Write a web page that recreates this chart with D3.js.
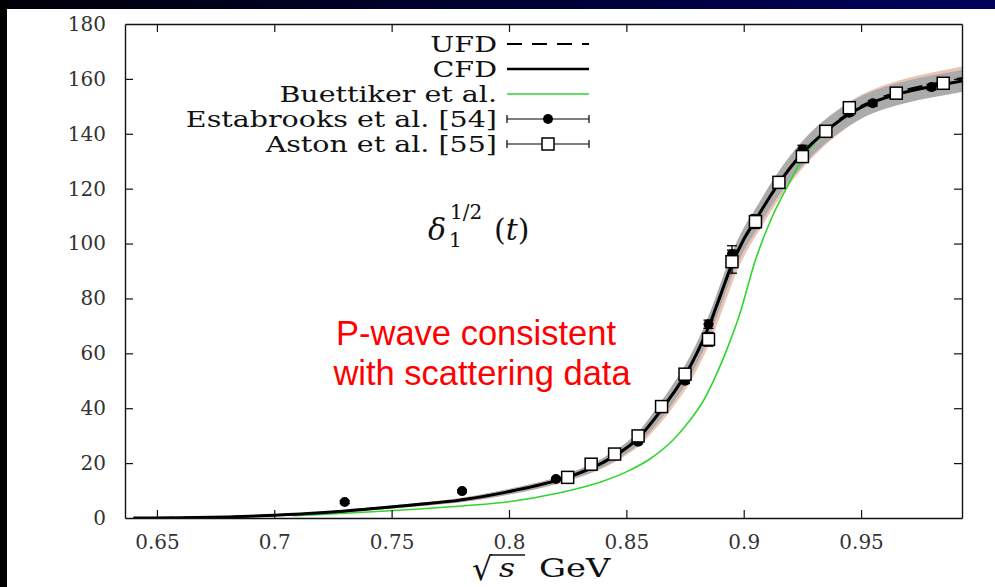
<!DOCTYPE html>
<html>
<head>
<meta charset="utf-8">
<script src="https://cdn.jsdelivr.net/npm/d3@7"></script>
<style>
  body { margin: 0; background: #fff; }
  svg { display: block; }
</style>
</head>
<body>
<div id="chart"></div>
<script>
// CFD / UFD curves (sqrt(s) in GeV, phase in degrees)
const curveX = [0.64, 0.66, 0.68, 0.70, 0.72, 0.74, 0.76, 0.78, 0.80, 0.82, 0.83, 0.84, 0.85, 0.855, 0.86, 0.865, 0.87, 0.875, 0.88, 0.885, 0.89, 0.895, 0.90, 0.905, 0.91, 0.915, 0.92, 0.925, 0.93, 0.935, 0.94, 0.945, 0.95, 0.955, 0.96, 0.965, 0.97, 0.98, 0.993];
const cfdY   = [0, 0.1, 0.4, 1.0, 1.9, 3.3, 4.8, 6.6, 9.6, 13.6, 16.4, 20.2, 25.5, 29, 34, 39.5, 45.5, 52, 60, 69.5, 81, 92.5, 101.5, 108.5, 115.5, 122, 127.8, 132.8, 137.2, 141, 144.3, 147.2, 149.6, 151.5, 153, 154.3, 155.4, 157.2, 159.2];
const ufdY   = [0, 0.1, 0.4, 1.0, 1.9, 3.3, 4.8, 6.7, 9.7, 13.7, 16.5, 20.3, 25.6, 29.1, 34, 39.4, 45.3, 51.8, 59.8, 69.2, 80.6, 92.2, 101.2, 108.3, 115.4, 122, 127.9, 133, 137.5, 141.4, 144.7, 147.7, 150.2, 152.1, 153.7, 155, 156.2, 158.1, 160.3];
const cfdErr = [0, 0.1, 0.2, 0.3, 0.4, 0.5, 0.6, 0.8, 1.0, 1.2, 1.4, 1.7, 2.0, 2.3, 2.7, 3.1, 3.4, 3.7, 3.9, 4.1, 4.2, 4.2, 4.2, 4.2, 4.3, 4.4, 4.5, 4.5, 4.5, 4.4, 4.3, 4.2, 4.1, 4.0, 4.0, 4.0, 4.0, 4.0, 4.0];

// Buettiker et al.
const buettX = [0.708, 0.72, 0.74, 0.76, 0.78, 0.80, 0.82, 0.84, 0.85, 0.86, 0.87, 0.877, 0.883, 0.889, 0.894, 0.898, 0.905, 0.912, 0.92, 0.925, 0.93, 0.94, 0.95, 0.957];
const buettY = [0.8, 1.3, 2.2, 3.2, 4.4, 5.9, 8.9, 13.4, 16.8, 21.5, 28.5, 35.5, 43, 53.5, 64, 73.5, 94, 109.5, 123, 131, 136.5, 144, 149.5, 152];

// Estabrooks et al. [54]
const estX   = [0.73, 0.78, 0.82, 0.855, 0.875, 0.885, 0.895, 0.925, 0.945, 0.955, 0.98];
const estY   = [5.8, 9.8, 14.2, 27.8, 50, 70.6, 96.2, 134.3, 147.7, 151.1, 157];
const estErr = [0.5, 0.5, 0.5, 0.8, 1, 1.5, 3, 1.5, 1, 1, 1];

// Aston et al. [55]
const astonX   = [0.825, 0.835, 0.845, 0.855, 0.865, 0.875, 0.885, 0.895, 0.905, 0.915, 0.925, 0.935, 0.945, 0.965, 0.985];
const astonY   = [14.8, 19.6, 23.3, 29.9, 40.6, 52.4, 65.1, 93.4, 108, 122.3, 131.7, 140.9, 149.5, 154.8, 158.4];
const astonErr = [0.5, 0.5, 0.5, 0.8, 1, 1.2, 2.5, 4.2, 2.5, 1, 1, 1, 1, 1, 1];

const xTicks = [0.65, 0.7, 0.75, 0.8, 0.85, 0.9, 0.95];
const xTickLabels = ["0.65", "0.7", "0.75", "0.8", "0.85", "0.9", "0.95"];
const yTicks = [0, 20, 40, 60, 80, 100, 120, 140, 160, 180];

const W = 995, H = 587;
const svg = d3.select("#chart").append("svg").attr("width", W).attr("height", H);

// slide background
const defs = svg.append("defs");
const grad = defs.append("linearGradient").attr("id", "topbar");
grad.append("stop").attr("offset", "0%").attr("stop-color", "#000008");
grad.append("stop").attr("offset", "100%").attr("stop-color", "#00005c");
svg.append("rect").attr("width", W).attr("height", H).attr("fill", "#fff");
svg.append("rect").attr("width", W).attr("height", 9).attr("fill", "url(#topbar)");
svg.append("rect").attr("width", 7).attr("height", H).attr("fill", "#000");

const x = d3.scaleLinear().domain([0.6364, 0.993]).range([125, 962]);
const y = d3.scaleLinear().domain([0, 180]).range([518, 24]);

const clip = defs.append("clipPath").attr("id", "plotclip");
clip.append("rect").attr("x", 125).attr("y", 24).attr("width", 837).attr("height", 494);

const plot = svg.append("g").attr("clip-path", "url(#plotclip)");

// error bands (UFD band slightly behind, pinkish)
const bandPts = curveX.map((v, i) => ({x: v, c: cfdY[i], u: ufdY[i], e: cfdErr[i]}));
plot.append("path")
  .datum(bandPts)
  .attr("fill", "#ecc4b6")
  .attr("d", d3.area().curve(d3.curveMonotoneX)
    .x(d => x(d.x + 0.0012)).y0(d => y(d.u - d.e)).y1(d => y(d.u + d.e * 1.1)));
plot.append("path")
  .datum(bandPts)
  .attr("fill", "#ababab")
  .attr("d", d3.area().curve(d3.curveMonotoneX)
    .x(d => x(d.x)).y0(d => y(d.c - d.e)).y1(d => y(d.c + d.e)));

const line = d3.line().curve(d3.curveMonotoneX).x(d => x(d[0])).y(d => y(d[1]));

// Buettiker
plot.append("path")
  .datum(buettX.map((v, i) => [v, buettY[i]]))
  .attr("fill", "none").attr("stroke", "#2fd62f").attr("stroke-width", 1.6)
  .attr("d", line);

// CFD
plot.append("path")
  .datum(curveX.map((v, i) => [v, cfdY[i]]))
  .attr("fill", "none").attr("stroke", "#000").attr("stroke-width", 3)
  .attr("d", line);
// UFD
plot.append("path")
  .datum(curveX.map((v, i) => [v, ufdY[i]]))
  .attr("fill", "none").attr("stroke", "#000").attr("stroke-width", 2)
  .attr("stroke-dasharray", "15,10")
  .attr("d", line);

// error bars
function errBars(xs, ys, es) {
  const g = plot.append("g").attr("stroke", "#000").attr("stroke-width", 1.3);
  xs.forEach((v, i) => {
    const cx = x(v), y0 = y(ys[i] - es[i]), y1 = y(ys[i] + es[i]);
    g.append("line").attr("x1", cx).attr("x2", cx).attr("y1", y0).attr("y2", y1);
    g.append("line").attr("x1", cx - 5).attr("x2", cx + 5).attr("y1", y0).attr("y2", y0);
    g.append("line").attr("x1", cx - 5).attr("x2", cx + 5).attr("y1", y1).attr("y2", y1);
  });
}
errBars(estX, estY, estErr);
errBars(astonX, astonY, astonErr);

plot.append("g").selectAll("circle")
  .data(estX.map((v, i) => [v, estY[i]]))
  .join("circle")
  .attr("cx", d => x(d[0])).attr("cy", d => y(d[1]))
  .attr("r", 5).attr("fill", "#000");

plot.append("g").selectAll("rect")
  .data(astonX.map((v, i) => [v, astonY[i]]))
  .join("rect")
  .attr("x", d => x(d[0]) - 6).attr("y", d => y(d[1]) - 6)
  .attr("width", 12).attr("height", 12)
  .attr("fill", "#fff").attr("stroke", "#000").attr("stroke-width", 1.5);

// axes
const serif = "'DejaVu Serif', 'Liberation Serif', serif";
const axB = svg.append("g").attr("transform", "translate(0,518)")
  .call(d3.axisBottom(x).tickValues(xTicks).tickFormat((d, i) => xTickLabels[i]).tickSizeInner(-8).tickSizeOuter(0).tickPadding(17));
const axL = svg.append("g").attr("transform", "translate(125,0)")
  .call(d3.axisLeft(y).tickValues(yTicks).tickSizeInner(-8).tickSizeOuter(0).tickPadding(19));
const axT = svg.append("g").attr("transform", "translate(0,24)")
  .call(d3.axisTop(x).tickValues(xTicks).tickFormat("").tickSizeInner(-8).tickSizeOuter(0));
const axR = svg.append("g").attr("transform", "translate(962,0)")
  .call(d3.axisRight(y).tickValues(yTicks).tickFormat("").tickSizeInner(-8).tickSizeOuter(0));
[axB, axL, axT, axR].forEach(a => {
  a.attr("font-family", serif);
  a.select(".domain").attr("stroke", "#111").attr("stroke-width", 1.4);
  a.selectAll(".tick line").attr("stroke", "#111").attr("stroke-width", 1.2);
  a.selectAll("text").attr("font-family", serif).attr("font-size", 20).attr("fill", "#333");
});
axL.selectAll(".tick").filter(d => d === 180 || d === 0).select("line").remove();
axR.selectAll(".tick").filter(d => d === 180 || d === 0).select("line").remove();

// legend
const legRows = [
  {label: "UFD", y: 44, kind: "dash"},
  {label: "CFD", y: 69, kind: "solid"},
  {label: "Buettiker et al.", y: 94, kind: "green"},
  {label: "Estabrooks et al. [54]", y: 119, kind: "circle"},
  {label: "Aston et al. [55]", y: 144, kind: "square"}
];
const leg = svg.append("g");
legRows.forEach(r => {
  leg.append("text").attr("transform", `translate(497,${r.y}) scale(1.24,1)`)
    .attr("dy", "0.36em")
    .attr("text-anchor", "end").attr("font-family", serif).attr("font-size", 23)
    .attr("fill", "#111").text(r.label);
  const ln = leg.append("line").attr("x1", 507).attr("x2", 589).attr("y1", r.y).attr("y2", r.y)
    .attr("stroke", "#000");
  if (r.kind === "dash") ln.attr("stroke-width", 2).attr("stroke-dasharray", "15,10");
  if (r.kind === "solid") ln.attr("stroke-width", 2.5);
  if (r.kind === "green") ln.attr("stroke", "#2fd62f").attr("stroke-width", 1.6);
  if (r.kind === "circle" || r.kind === "square") {
    ln.attr("stroke-width", 1.2);
    [507, 589].forEach(cx => leg.append("line").attr("x1", cx).attr("x2", cx)
      .attr("y1", r.y - 4).attr("y2", r.y + 4).attr("stroke", "#000").attr("stroke-width", 1.2));
    if (r.kind === "circle") leg.append("circle").attr("cx", 548).attr("cy", r.y).attr("r", 5).attr("fill", "#000");
    else leg.append("rect").attr("x", 542).attr("y", r.y - 6).attr("width", 12).attr("height", 12)
      .attr("fill", "#fff").attr("stroke", "#000").attr("stroke-width", 1.5);
  }
});

// delta label
const dg = svg.append("g").attr("font-family", serif).attr("fill", "#111");
dg.append("text").attr("x", 428).attr("y", 240).attr("font-size", 30).attr("font-style", "italic").text("δ");
dg.append("text").attr("x", 450).attr("y", 219).attr("font-size", 20).text("1/2");
dg.append("text").attr("x", 449).attr("y", 247).attr("font-size", 20).text("1");
dg.append("text").attr("x", 494).attr("y", 240).attr("font-size", 30)
  .call(t => { t.append("tspan").text("("); t.append("tspan").attr("font-style", "italic").text("t"); t.append("tspan").text(")"); });

// x axis title
const xl = svg.append("g").attr("font-family", serif).attr("fill", "#111");
xl.append("text").attr("x", 472).attr("y", 580).attr("font-size", 32).text("√");
xl.append("line").attr("x1", 491).attr("x2", 525).attr("y1", 555).attr("y2", 555).attr("stroke", "#111").attr("stroke-width", 1.4);
xl.append("text").attr("transform", "translate(499,577) scale(1.2,1)").attr("font-size", 26).attr("font-style", "italic").text("s");
xl.append("text").attr("transform", "translate(539,577) scale(1.3,1)").attr("font-size", 26).text("GeV");

// annotation
const note = svg.append("text").attr("font-family", "'Liberation Sans', Arial, sans-serif")
  .attr("font-size", 34.5).attr("fill", "#ff0000").attr("text-anchor", "middle");
note.append("tspan").attr("x", 476).attr("y", 345).text("P-wave consistent");
note.append("tspan").attr("x", 482).attr("y", 385).text("with scattering data");
</script>
</body>
</html>
